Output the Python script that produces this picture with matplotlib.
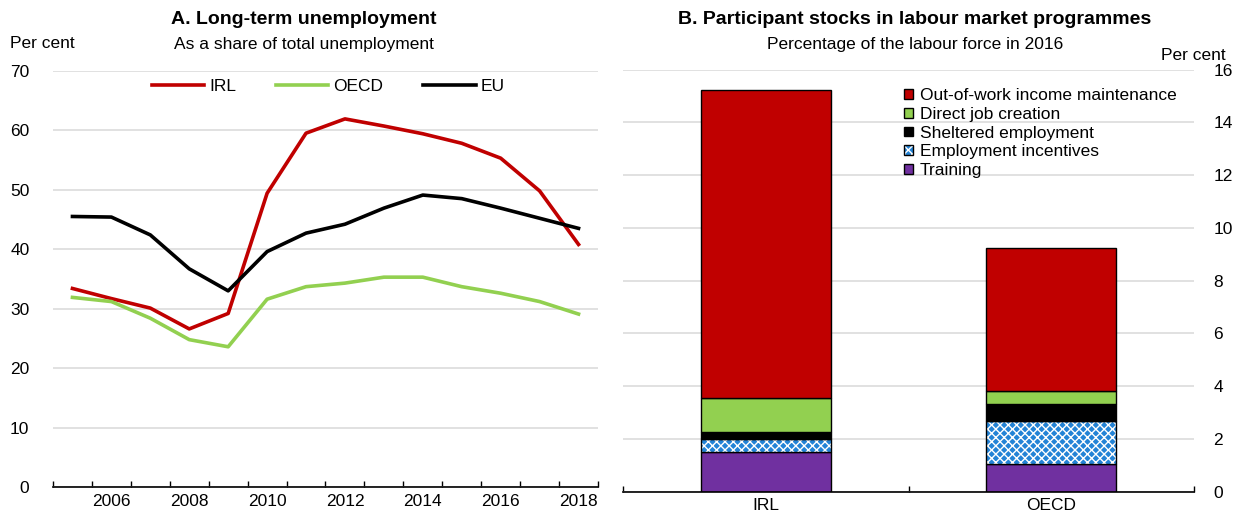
import matplotlib
matplotlib.use("Agg")
import matplotlib.pyplot as plt
from matplotlib.patches import Patch
from matplotlib.legend_handler import HandlerTuple
import numpy as np

plt.rcParams['font.family'] = ['Liberation Sans Narrow', 'Liberation Sans', 'DejaVu Sans']
plt.rcParams['font.size'] = 12.5
plt.rcParams['hatch.linewidth'] = 1.0

# Panel A: long-term unemployment, % of total unemployment
years = list(range(2005, 2019))
irl = [33.4, 31.7, 30.1, 26.6, 29.2, 49.4, 59.5, 61.9, 60.7, 59.4, 57.8, 55.3, 49.8, 40.8]
oecd = [31.9, 31.2, 28.4, 24.8, 23.6, 31.6, 33.7, 34.3, 35.3, 35.3, 33.7, 32.6, 31.2, 29.1]
eu = [45.5, 45.4, 42.4, 36.7, 33.0, 39.6, 42.7, 44.2, 46.9, 49.1, 48.5, 46.9, 45.2, 43.5]

# Panel B: participant stocks, % of labour force in 2016
countries = ['IRL', 'OECD']
training = [1.49, 1.03]
incentives = [0.51, 1.65]
sheltered = [0.27, 0.63]
direct_job = [1.27, 0.49]
out_of_work = [11.7, 5.43]

RED = '#C00000'
GREEN = '#92D050'
BLUE = '#2383D6'
PURPLE = '#7030A0'
GRID = '#D9D9D9'

W, H = 1241, 518
fig = plt.figure(figsize=(W / 100, H / 100), dpi=100)

# ---- panel A ----
ax1 = fig.add_axes([53 / W, 1 - 487.2 / H, 545 / W, (487.2 - 70.7) / H])
x = np.arange(len(years))
ax1.plot(x, irl, color=RED, lw=2.6, label='IRL')
ax1.plot(x, oecd, color=GREEN, lw=2.6, label='OECD')
ax1.plot(x, eu, color='black', lw=2.6, label='EU')
ax1.set_xlim(-0.5, len(years) - 0.5)
ax1.set_ylim(0, 70)
ax1.set_yticks(range(0, 71, 10))
ax1.yaxis.grid(True, color=GRID, lw=1.1)
ax1.set_axisbelow(True)
ax1.tick_params(axis='y', length=0, pad=17)
ax1.set_xticks(np.arange(-0.5, len(years), 1.0))
ax1.set_xticklabels([])
ax1.tick_params(axis='x', which='major', direction='in', length=4, width=1)
ax1.set_xticks([i for i, y in enumerate(years) if y % 2 == 0], minor=True)
ax1.set_xticklabels([str(y) for y in years if y % 2 == 0], minor=True)
ax1.tick_params(axis='x', which='minor', length=0, pad=5)
for s in ['top', 'right', 'left']:
    ax1.spines[s].set_visible(False)
ax1.spines['bottom'].set_linewidth(1.2)
ax1.legend(loc='center left', bbox_to_anchor=(152 / W, 1 - 86 / H), bbox_transform=fig.transFigure,
           ncol=3, frameon=False, handlelength=3.0, handletextpad=0.3, columnspacing=2.3,
           borderpad=0, borderaxespad=0)

fig.text(304 / W, 1 - 20 / H, 'A. Long-term unemployment', ha='center', va='center',
         fontsize=14, fontweight='bold')
fig.text(304 / W, 1 - 44 / H, 'As a share of total unemployment', ha='center', va='center')
fig.text(10 / W, 1 - 44 / H, 'Per cent', ha='left', va='center')

# ---- panel B ----
ax2 = fig.add_axes([623 / W, 1 - 491.5 / H, 571 / W, (491.5 - 69.6) / H])
xb = np.arange(len(countries))
bw = 0.454
edge = dict(edgecolor='black', linewidth=1.0)

ax2.bar(xb, training, bw, color=PURPLE, **edge)
bottom = np.array(training)
ax2.bar(xb, incentives, bw, bottom=bottom, color=BLUE, edgecolor='white', linewidth=0, hatch='xxxx')
ax2.bar(xb, incentives, bw, bottom=bottom, fill=False, **edge)
bottom = bottom + incentives
ax2.bar(xb, sheltered, bw, bottom=bottom, color='black', **edge)
bottom = bottom + sheltered
ax2.bar(xb, direct_job, bw, bottom=bottom, color=GREEN, **edge)
bottom = bottom + direct_job
ax2.bar(xb, out_of_work, bw, bottom=bottom, color=RED, **edge)

ax2.set_xlim(-0.5, 1.5)
ax2.set_ylim(0, 16)
ax2.set_yticks(range(0, 17, 2))
ax2.yaxis.tick_right()
ax2.tick_params(axis='y', length=0, pad=14)
ax2.yaxis.grid(True, color=GRID, lw=1.1)
ax2.set_axisbelow(True)
ax2.set_xticks([-0.5, 0.5, 1.5])
ax2.set_xticklabels([])
ax2.tick_params(axis='x', which='major', direction='in', length=4, width=1)
ax2.set_xticks(xb, minor=True)
ax2.set_xticklabels(countries, minor=True)
ax2.tick_params(axis='x', which='minor', length=0, pad=5)
for s in ['top', 'right', 'left']:
    ax2.spines[s].set_visible(False)
ax2.spines['bottom'].set_linewidth(1.2)

hatch_patch = Patch(facecolor=BLUE, edgecolor='white', linewidth=0, hatch='xxxx')
frame_patch = Patch(fill=False, edgecolor='black', linewidth=1.0)
handles = [Patch(facecolor=RED, **edge), Patch(facecolor=GREEN, **edge),
           Patch(facecolor='black', **edge), (hatch_patch, frame_patch),
           Patch(facecolor=PURPLE, **edge)]
labels = ['Out-of-work income maintenance', 'Direct job creation', 'Sheltered employment',
          'Employment incentives', 'Training']
ax2.legend(handles, labels, loc='upper left', bbox_to_anchor=(904 / W, 1 - 88 / H),
           bbox_transform=fig.transFigure, frameon=False, handlelength=0.5, handleheight=0.5,
           handletextpad=0.4, labelspacing=0.22, borderpad=0, borderaxespad=0,
           handler_map={tuple: HandlerTuple(ndivide=1, pad=0)})

fig.text(915 / W, 1 - 20 / H, 'B. Participant stocks in labour market programmes', ha='center',
         va='center', fontsize=14, fontweight='bold')
fig.text(915 / W, 1 - 44 / H, 'Percentage of the labour force in 2016', ha='center', va='center')
fig.text(1226 / W, 1 - 55 / H, 'Per cent', ha='right', va='center')

fig.savefig('out.png', dpi=100)
